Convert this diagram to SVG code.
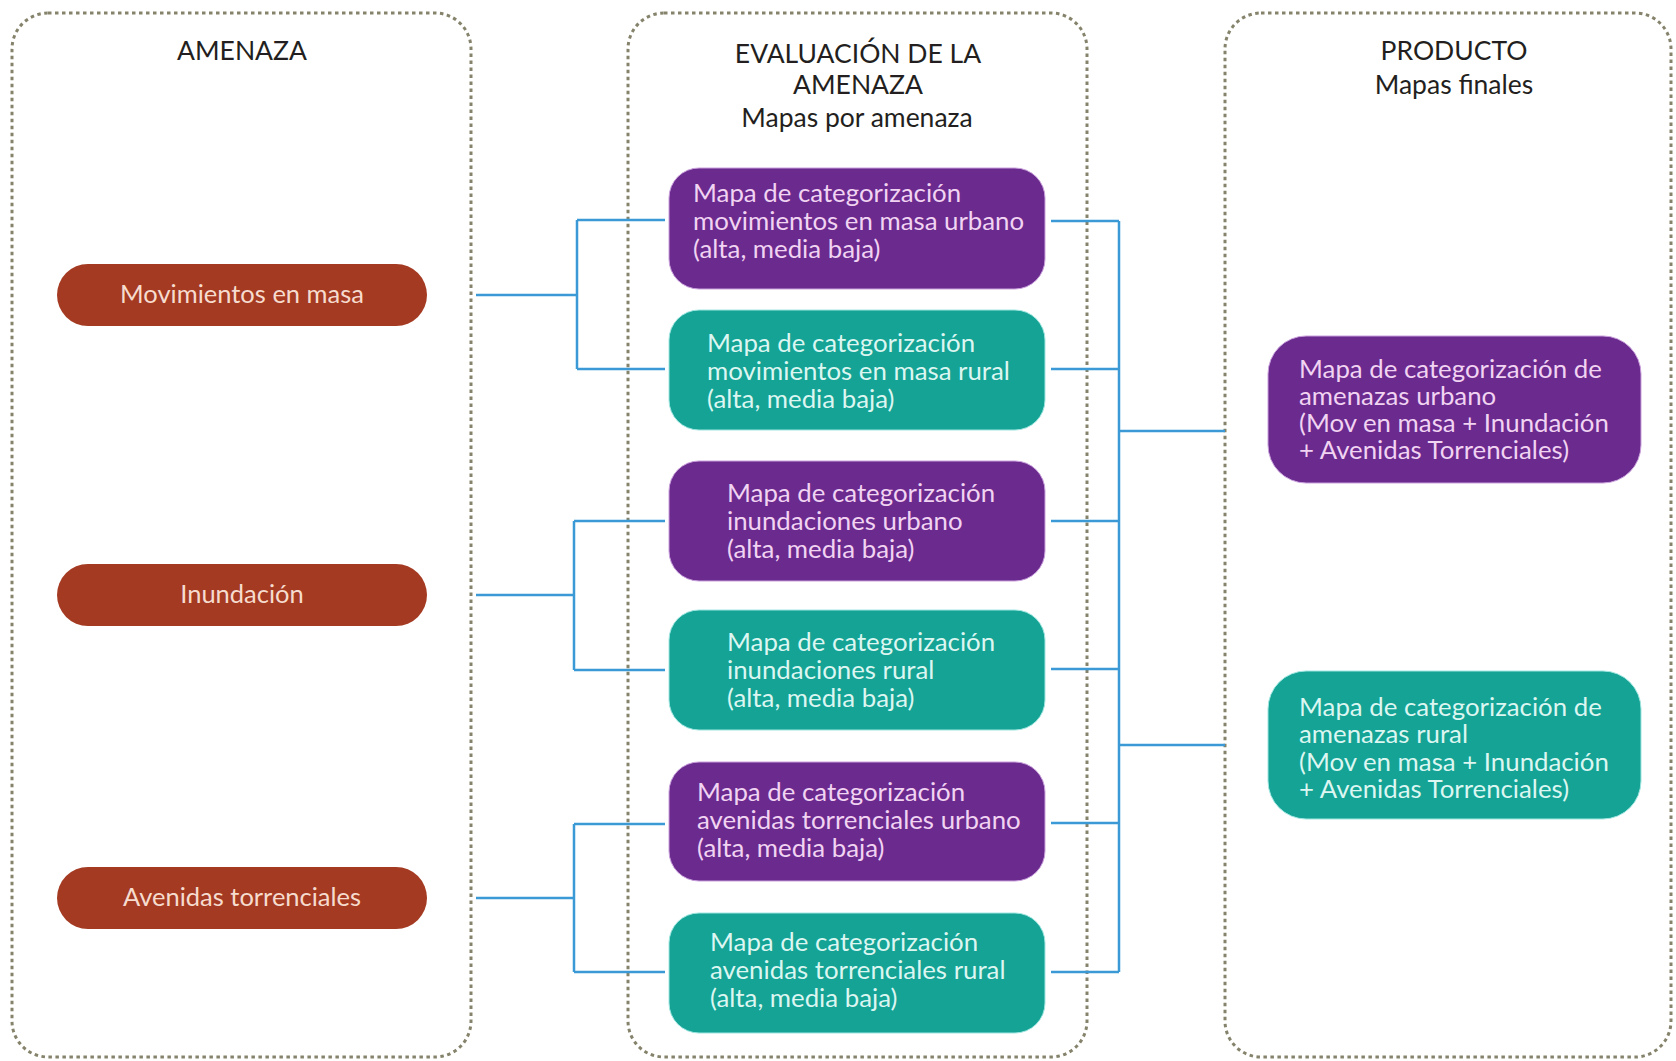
<svg xmlns="http://www.w3.org/2000/svg" width="1676" height="1061" viewBox="0 0 1676 1061">
<style>
.panel{fill:none;stroke:#85836b;stroke-width:3;stroke-dasharray:3.5 3.5}
.title{font-family:Lato,"Open Sans",sans-serif;font-size:26.5px;fill:#231f20;text-anchor:middle}
.threat{fill:#a43a21}
.threat-t{font-family:Lato,"Open Sans",sans-serif;font-size:25.5px;fill:#f6dccf;text-anchor:middle}
.pur{fill:#6a2a8e;stroke:#c9a0dc;stroke-width:1}
.teal{fill:#14a395;stroke:#9fe6e0;stroke-width:1}
.pt{font-family:Lato,"Open Sans",sans-serif;font-size:25.8px;fill:#f1d3f2}
.tt{font-family:Lato,"Open Sans",sans-serif;font-size:25.8px;fill:#dcf6f1}
.conn{fill:none;stroke:#3b9ad6;stroke-width:2.5}
</style>
<rect width="1676" height="1061" fill="#ffffff"/>
<g id="panels">
<rect id="panel-amenaza" class="panel" x="12" y="13" width="459" height="1044" rx="36"/>
<rect id="panel-evaluacion" class="panel" x="628" y="13" width="459" height="1044" rx="36"/>
<rect id="panel-producto" class="panel" x="1225" y="13" width="446" height="1044" rx="36"/>
</g>
<g id="titles">
<text class="title" x="242" y="60">AMENAZA</text>
<text class="title" x="858" y="63">EVALUACIÓN DE LA</text>
<text class="title" x="858" y="94">AMENAZA</text>
<text class="title" x="857" y="127">Mapas por amenaza</text>
<text class="title" x="1454" y="60">PRODUCTO</text>
<text class="title" x="1454" y="94">Mapas finales</text>
</g>
<g id="connectors">
<path class="conn" d="M476 295 H577 M577 220 V369 M577 220 H665 M577 369 H665"/>
<path class="conn" d="M476 595 H574 M574 521 V670 M574 521 H665 M574 670 H665"/>
<path class="conn" d="M476 898 H574 M574 824 V972 M574 824 H665 M574 972 H665"/>
<path class="conn" d="M1051 221 H1119 M1051 369 H1119 M1051 521 H1119 M1051 669 H1119 M1051 823 H1119 M1051 972 H1119 M1119 221 V972 M1119 431 H1225 M1119 745 H1225"/>
</g>
<g id="n-movimientos">
<rect class="threat" x="57" y="264" width="370" height="62" rx="31"/>
<text class="threat-t" x="242" y="303">Movimientos en masa</text>
</g>
<g id="n-inundacion">
<rect class="threat" x="57" y="564" width="370" height="62" rx="31"/>
<text class="threat-t" x="242" y="603">Inundación</text>
</g>
<g id="n-avenidas">
<rect class="threat" x="57" y="867" width="370" height="62" rx="31"/>
<text class="threat-t" x="242" y="906">Avenidas torrenciales</text>
</g>
<g id="n-mov-urbano">
<rect class="pur" x="669" y="168" width="376" height="121" rx="30"/>
<text class="pt" x="693" y="202">Mapa de categorización</text>
<text class="pt" x="693" y="230">movimientos en masa urbano</text>
<text class="pt" x="693" y="258">(alta, media baja)</text>
</g>
<g id="n-mov-rural">
<rect class="teal" x="669" y="310" width="376" height="120" rx="30"/>
<text class="tt" x="707" y="352">Mapa de categorización</text>
<text class="tt" x="707" y="380">movimientos en masa rural</text>
<text class="tt" x="707" y="408">(alta, media baja)</text>
</g>
<g id="n-inu-urbano">
<rect class="pur" x="669" y="461" width="376" height="120" rx="30"/>
<text class="pt" x="727" y="502">Mapa de categorización</text>
<text class="pt" x="727" y="530">inundaciones urbano</text>
<text class="pt" x="727" y="558">(alta, media baja)</text>
</g>
<g id="n-inu-rural">
<rect class="teal" x="669" y="610" width="376" height="120" rx="30"/>
<text class="tt" x="727" y="651">Mapa de categorización</text>
<text class="tt" x="727" y="679">inundaciones rural</text>
<text class="tt" x="727" y="707">(alta, media baja)</text>
</g>
<g id="n-ave-urbano">
<rect class="pur" x="669" y="762" width="376" height="119" rx="30"/>
<text class="pt" x="697" y="801">Mapa de categorización</text>
<text class="pt" x="697" y="829">avenidas torrenciales urbano</text>
<text class="pt" x="697" y="857">(alta, media baja)</text>
</g>
<g id="n-ave-rural">
<rect class="teal" x="669" y="913" width="376" height="120" rx="30"/>
<text class="tt" x="710" y="951">Mapa de categorización</text>
<text class="tt" x="710" y="979">avenidas torrenciales rural</text>
<text class="tt" x="710" y="1007">(alta, media baja)</text>
</g>
<g id="n-final-urbano">
<rect class="pur" x="1268" y="336" width="373" height="147" rx="38"/>
<text class="pt" x="1299" y="378">Mapa de categorización de</text>
<text class="pt" x="1299" y="405">amenazas urbano</text>
<text class="pt" x="1299" y="432">(Mov en masa + Inundación</text>
<text class="pt" x="1299" y="459">+ Avenidas Torrenciales)</text>
</g>
<g id="n-final-rural">
<rect class="teal" x="1268" y="671" width="373" height="148" rx="38"/>
<text class="tt" x="1299" y="716">Mapa de categorización de</text>
<text class="tt" x="1299" y="743">amenazas rural</text>
<text class="tt" x="1299" y="771">(Mov en masa + Inundación</text>
<text class="tt" x="1299" y="798">+ Avenidas Torrenciales)</text>
</g>
</svg>
